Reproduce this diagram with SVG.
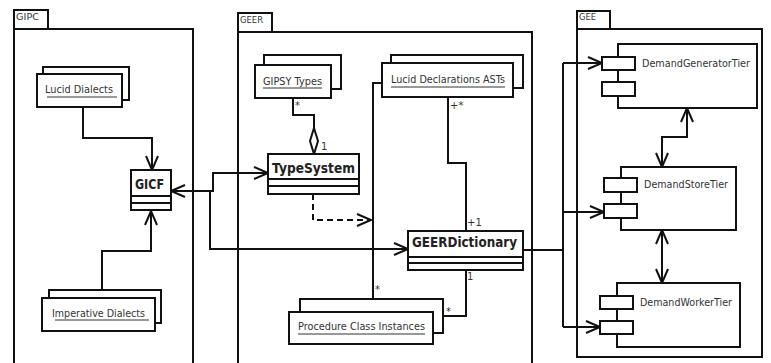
<svg xmlns="http://www.w3.org/2000/svg" width="771" height="363" viewBox="0 0 771 363">
<style>
.ln{fill:none;stroke:#111;stroke-width:2}
.box{fill:#fff;stroke:#111;stroke-width:2}
.ul{stroke:#333;stroke-width:1}
.t{font-family:"DejaVu Sans","Liberation Sans",sans-serif;fill:#333}
.s11{font-size:11px}
.tab{font-family:"DejaVu Sans","Liberation Sans",sans-serif;font-size:9px;fill:#333}
.cls{font-family:"DejaVu Sans","Liberation Sans",sans-serif;font-size:14px;font-weight:bold;fill:#222}
.m{font-family:"DejaVu Sans","Liberation Sans",sans-serif;font-size:10px;fill:#333}
.dash{stroke-dasharray:6,4}
</style>
<defs>
<marker id="ah" markerUnits="userSpaceOnUse" markerWidth="20" markerHeight="20" refX="15" refY="7" orient="auto-start-reverse" viewBox="0 0 20 20">
<path d="M1,1 L15,7 L1,13" fill="none" stroke="#111" stroke-width="2"/>
</marker>
</defs>
<g id="packages">
<g id="GIPC">
<rect class="box" x="14" y="10" width="34" height="19"/>
<rect class="box" x="14" y="29" width="179" height="345"/>
<text class="tab" x="16" y="20" textLength="23" lengthAdjust="spacingAndGlyphs">GIPC</text>
</g>
<g id="GEER">
<rect class="box" x="238" y="13" width="34" height="19"/>
<rect class="box" x="238" y="32" width="294" height="345"/>
<text class="tab" x="240" y="23" textLength="23" lengthAdjust="spacingAndGlyphs">GEER</text>
</g>
<g id="GEE">
<rect class="box" x="577" y="11" width="33" height="18"/>
<rect class="box" x="577" y="29" width="185" height="328"/>
<text class="tab" x="579" y="20" textLength="17" lengthAdjust="spacingAndGlyphs">GEE</text>
</g>
</g>
<g id="connectors">
<path class="ln" d="M83,107 V138 H152 V170" marker-end="url(#ah)"/>
<path class="ln" d="M102,290 V251 H151 V211" marker-end="url(#ah)"/>
<path class="ln" d="M171,191 H213 V173 H268" marker-start="url(#ah)" marker-end="url(#ah)"/>
<path class="ln" d="M210,191 V249 H408" marker-end="url(#ah)"/>
<path class="ln" d="M293,98 V115 H314 V128"/>
<path class="ln" d="M314,128 L318,141 L314,154 L310,141 Z" fill="#fff"/>
<path class="ln dash" d="M313,194 V220 H371" marker-end="url(#ah)"/>
<path class="ln" d="M448,97 V163 H466 V231"/>
<path class="ln" d="M382,83 H373 V299"/>
<path class="ln" d="M466,270 V316 H443"/>
<path class="ln" d="M523,250 H563"/>
<path class="ln" d="M563,63 V327"/>
<path class="ln" d="M563,63 H602" marker-end="url(#ah)"/>
<path class="ln" d="M563,212 H604" marker-end="url(#ah)"/>
<path class="ln" d="M563,327 H600" marker-end="url(#ah)"/>
<path class="ln" d="M687,108 V137 H662 V167" marker-start="url(#ah)" marker-end="url(#ah)"/>
<path class="ln" d="M662,230 V283" marker-start="url(#ah)" marker-end="url(#ah)"/>
<text class="m" x="295" y="109">*</text>
<text class="m" x="321" y="150">1</text>
<text class="m" x="450" y="109">+*</text>
<text class="m" x="467" y="226">+1</text>
<text class="m" x="467" y="280">1</text>
<text class="m" x="375" y="293">*</text>
<text class="m" x="446" y="315">*</text>
<text class="m" x="384" y="87">+</text>
</g>
<g id="LucidDialects">
<rect class="box" x="43" y="67" width="86" height="33"/>
<rect class="box" x="37" y="74" width="85" height="33"/>
<text class="t s11" x="45" y="93" textLength="68" lengthAdjust="spacingAndGlyphs">Lucid Dialects</text>
<line class="ul" x1="47" y1="97" x2="117" y2="97"/>
</g>
<g id="ImperativeDialects">
<rect class="box" x="49" y="290" width="112" height="33"/>
<rect class="box" x="42" y="298" width="113" height="33"/>
<text class="t s11" x="52" y="317" textLength="93" lengthAdjust="spacingAndGlyphs">Imperative Dialects</text>
<line class="ul" x1="55" y1="320" x2="149" y2="320"/>
</g>
<g id="GICF">
<rect class="box" x="131" y="170" width="40" height="40"/>
<line class="ln" x1="131" y1="196" x2="171" y2="196"/>
<line class="ln" x1="131" y1="203" x2="171" y2="203"/>
<text class="cls" x="135" y="189" textLength="29" lengthAdjust="spacingAndGlyphs">GICF</text>
</g>
<g id="GIPSYTypes">
<rect class="box" x="264" y="55" width="77" height="34"/>
<rect class="box" x="255" y="65" width="76" height="33"/>
<text class="t s11" x="263" y="85" textLength="59" lengthAdjust="spacingAndGlyphs">GIPSY Types</text>
<line class="ul" x1="263" y1="88" x2="322" y2="88"/>
</g>
<g id="TypeSystem">
<rect class="box" x="268" y="154" width="91" height="40"/>
<line class="ln" x1="268" y1="179" x2="359" y2="179"/>
<line class="ln" x1="268" y1="186" x2="359" y2="186"/>
<text class="cls" x="272" y="173" textLength="83" lengthAdjust="spacingAndGlyphs">TypeSystem</text>
</g>
<g id="LucidDeclarationsASTs">
<rect class="box" x="391" y="55" width="132" height="33"/>
<rect class="box" x="382" y="63" width="131" height="34"/>
<text class="t s11" x="391" y="83" textLength="114" lengthAdjust="spacingAndGlyphs">Lucid Declarations ASTs</text>
<line class="ul" x1="391" y1="87" x2="505" y2="87"/>
</g>
<g id="GEERDictionary">
<rect class="box" x="408" y="231" width="115" height="39"/>
<line class="ln" x1="408" y1="257" x2="523" y2="257"/>
<line class="ln" x1="408" y1="263" x2="523" y2="263"/>
<text class="cls" x="412" y="247" textLength="105" lengthAdjust="spacingAndGlyphs">GEERDictionary</text>
</g>
<g id="ProcedureClassInstances">
<rect class="box" x="300" y="299" width="143" height="34"/>
<rect class="box" x="289" y="312" width="144" height="32"/>
<text class="t s11" x="298" y="330" textLength="127" lengthAdjust="spacingAndGlyphs">Procedure Class Instances</text>
<line class="ul" x1="298" y1="334" x2="425" y2="334"/>
</g>
<g id="DemandGeneratorTier">
<rect class="box" x="618" y="44" width="139" height="64"/>
<rect class="box" x="602" y="57" width="33" height="13"/>
<rect class="box" x="602" y="82" width="33" height="14"/>
<text class="t s11" x="642" y="67" textLength="108" lengthAdjust="spacingAndGlyphs">DemandGeneratorTier</text>
</g>
<g id="DemandStoreTier">
<rect class="box" x="621" y="167" width="115" height="63"/>
<rect class="box" x="604" y="178" width="33" height="14"/>
<rect class="box" x="604" y="204" width="33" height="14"/>
<text class="t s11" x="644" y="188" textLength="84" lengthAdjust="spacingAndGlyphs">DemandStoreTier</text>
</g>
<g id="DemandWorkerTier">
<rect class="box" x="617" y="283" width="123" height="64"/>
<rect class="box" x="600" y="296" width="33" height="13"/>
<rect class="box" x="600" y="321" width="33" height="13"/>
<text class="t s11" x="640" y="306" textLength="92" lengthAdjust="spacingAndGlyphs">DemandWorkerTier</text>
</g>
</svg>
